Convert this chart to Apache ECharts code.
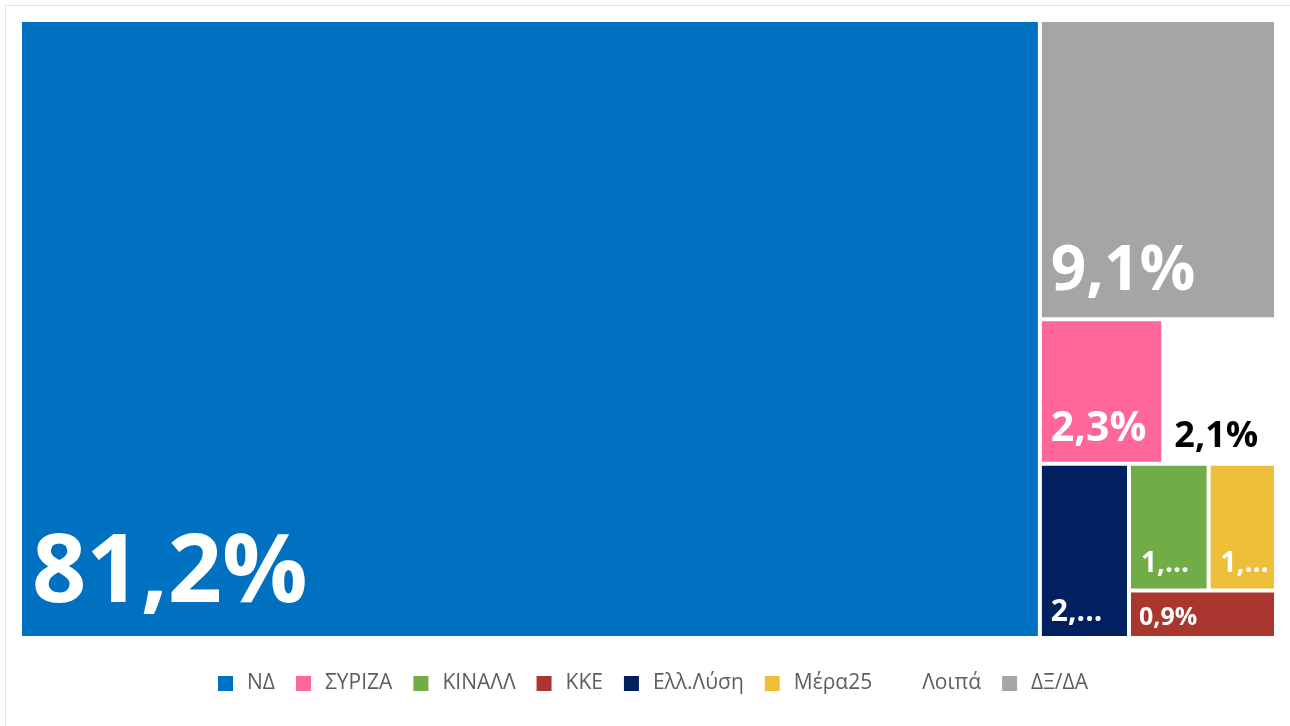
<!DOCTYPE html>
<html>
<head>
<meta charset="utf-8">
<script src="https://cdn.jsdelivr.net/npm/echarts@6/dist/echarts.min.js"></script>
<style>
html,body{margin:0;padding:0;background:#fff;}
#chart{width:1290px;height:726px;}
</style>
</head>
<body>
<div id="chart"></div>
<script>
// ---- data ----
const categories = ['ΝΔ', 'ΣΥΡΙΖΑ', 'ΚΙΝΑΛΛ', 'ΚΚΕ', 'Ελλ.Λύση', 'Μέρα25', 'Λοιπά', 'ΔΞ/ΔΑ'];
const values = [81.2, 2.3, 1.3, 0.9, 2.0, 1.1, 2.1, 9.1];

// ---- styles ----
const colors = ['#0070C0', '#FF6699', '#70AD47', '#A9372F', '#002060', '#EEC03A', '#FFFFFF', '#A5A5A5'];
const labelStyle = {
  'ΝΔ':       { fontSize: 95, distance: 10, padding: [0, 0, 4, 0] },
  'ΔΞ/ΔΑ':    { fontSize: 62, distance: 9, padding: [0, 0, 5, 0] },
  'ΣΥΡΙΖΑ':   { fontSize: 41, distance: 9, padding: [0, 0, 3, 0] },
  'Λοιπά':    { fontSize: 36, distance: 9, padding: [0, 0, -2, 0], color: '#000000' },
  'Ελλ.Λύση': { fontSize: 30, distance: 9, padding: [0, 19, 0, 0] },
  'ΚΙΝΑΛΛ':   { fontSize: 28, distance: 10, padding: [0, 15, 0, 0] },
  'Μέρα25':   { fontSize: 28, distance: 10, padding: [0, 2, 0, 0] },
  'ΚΚΕ':      { fontSize: 25, distance: 8, padding: [0, 0, -2, 0] }
};

const fmt = v => v.toFixed(1).replace('.', ',') + '%';

const treeData = categories.map((name, i) => ({
  name: name,
  value: values[i],
  itemStyle: { color: colors[i] },
  label: labelStyle[name]
}));

const legendData = categories.map((name, i) => ({
  name: name,
  value: values[i],
  itemStyle: { color: colors[i] }
}));

const chart = echarts.init(document.getElementById('chart'), null, { renderer: 'canvas' });
chart.setOption({
  animation: false,
  backgroundColor: '#ffffff',
  graphic: [{
    type: 'rect',
    shape: { x: 5.5, y: 5.5, width: 1300, height: 800 },
    style: { fill: 'none', stroke: '#E3E3E3', lineWidth: 1 },
    silent: true,
    z: -10
  }],
  legend: {
    show: true,
    left: 213,
    top: 668,
    icon: 'rect',
    itemWidth: 15,
    itemHeight: 15,
    itemGap: 21,
    selectedMode: false,
    textStyle: {
      fontFamily: 'Open Sans',
      fontSize: 21,
      color: '#605E5C',
      padding: [0, 0, 0, 9]
    },
    data: categories
  },
  series: [
    {
      type: 'pie',
      name: 'legend',
      radius: [0, 0],
      center: ['50%', '50%'],
      silent: true,
      label: { show: false },
      labelLine: { show: false },
      data: legendData,
      z: -5
    },
    {
      type: 'treemap',
      left: 22,
      top: 22,
      width: 1252,
      height: 614,
      roam: false,
      nodeClick: false,
      squareRatio: 1,
      sort: 'desc',
      breadcrumb: { show: false },
      itemStyle: { borderWidth: 0, gapWidth: 4, borderColor: '#ffffff' },
      levels: [{ itemStyle: { borderWidth: 0, gapWidth: 4, borderColor: '#ffffff' } }],
      emphasis: { disabled: true },
      label: {
        show: true,
        position: 'insideBottomLeft',
        fontFamily: 'Open Sans',
        fontWeight: 'bold',
        color: '#ffffff',
        overflow: 'truncate',
        ellipsis: '...',
        formatter: p => fmt(p.value)
      },
      data: treeData
    }
  ]
});
</script>
</body>
</html>
